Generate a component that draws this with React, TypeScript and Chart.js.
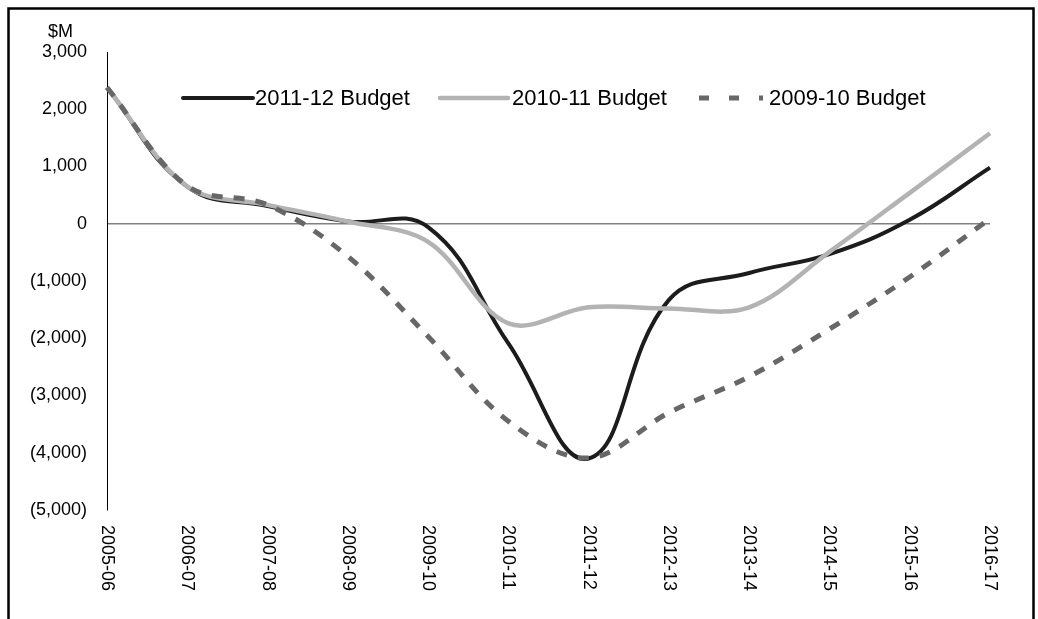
import React, { useEffect, useRef } from "react";
import { Chart, registerables } from "chart.js";

Chart.register(...registerables);

const categories = [
  "2005-06", "2006-07", "2007-08", "2008-09", "2009-10", "2010-11",
  "2011-12", "2012-13", "2013-14", "2014-15", "2015-16", "2016-17",
];

const budget2011_12 = [2380, 650, 310, 40, -60, -2090, -4100, -1330, -860, -530, 70, 980];
const budget2010_11 = [2380, 650, 330, 40, -315, -1740, -1460, -1480, -1460, -490, 540, 1580];
const budget2009_10 = [2380, 660, 330, -570, -1970, -3450, -4090, -3300, -2670, -1840, -930, 90];

const seriesNames = ["2011-12 Budget", "2010-11 Budget", "2009-10 Budget"];

const yTicks = [-5000, -4000, -3000, -2000, -1000, 0, 1000, 2000, 3000];

const FONT = "'Liberation Sans', Arial, sans-serif";

const fmt = (v: number) => {
  const s = Math.abs(v).toLocaleString("en-US");
  return v < 0 ? `(${s})` : s;
};

const decorPlugin = {
  id: "decor",
  afterDraw(chart: any) {
    const ctx = chart.ctx;
    const xs = chart.scales.x;
    ctx.save();
    // outer frame
    ctx.strokeStyle = "#000";
    ctx.lineWidth = 2.5;
    ctx.strokeRect(8.5, 8.5, 1025, 700);

    // unit label
    ctx.fillStyle = "#000";
    ctx.font = `18px ${FONT}`;
    ctx.textAlign = "left";
    ctx.textBaseline = "middle";
    ctx.fillText("$M", 48, 32);

    // rotated category labels (top-to-bottom)
    categories.forEach((c, i) => {
      const x = xs.getPixelForValue(i);
      ctx.save();
      ctx.translate(x, chart.chartArea.bottom + 15);
      ctx.rotate(Math.PI / 2);
      ctx.textAlign = "left";
      ctx.textBaseline = "middle";
      ctx.fillText(c, 0, 0);
      ctx.restore();
    });

    // legend
    const ly = 98;
    const ds = chart.data.datasets;
    const items = [
      { x0: 183, x1: 253, tx: 255, d: ds[2] },
      { x0: 440, x1: 508, tx: 512, d: ds[1] },
      { x0: 699, x1: 763, tx: 769, d: ds[0] },
    ];
    ctx.font = `22px ${FONT}`;
    items.forEach((it, i) => {
      ctx.save();
      ctx.strokeStyle = it.d.borderColor;
      ctx.lineWidth = it.d.borderWidth;
      ctx.lineCap = "round";
      if (it.d.borderDash && it.d.borderDash.length) {
        ctx.lineCap = "butt";
        ctx.setLineDash([10, 20]);
      }
      ctx.beginPath();
      ctx.moveTo(it.x0, ly);
      ctx.lineTo(it.x1, ly);
      ctx.stroke();
      ctx.restore();
      ctx.fillStyle = "#000";
      ctx.textAlign = "left";
      ctx.textBaseline = "middle";
      ctx.fillText(seriesNames[i], it.tx, ly + 1);
    });
    ctx.restore();
  },
};

export default function App() {
  const ref = useRef<HTMLCanvasElement>(null);
  useEffect(() => {
    if (!ref.current) return;
    const chart = new Chart(ref.current, {
      type: "line",
      data: {
        labels: categories,
        datasets: [
          {
            label: seriesNames[2],
            data: budget2009_10,
            borderColor: "#676767",
            borderWidth: 5,
            borderDash: [11, 11],
            pointRadius: 0,
            tension: 0.35,
            fill: false,
          },
          {
            label: seriesNames[1],
            data: budget2010_11,
            borderColor: "#b3b3b3",
            borderWidth: 4.5,
            pointRadius: 0,
            tension: 0.35,
            fill: false,
          },
          {
            label: seriesNames[0],
            data: budget2011_12,
            borderColor: "#1c1c1c",
            borderWidth: 4,
            pointRadius: 0,
            tension: 0.42,
            fill: false,
          },
        ],
      },
      options: {
        animation: false,
        responsive: false,
        maintainAspectRatio: false,
        layout: { padding: { top: 52, right: 48, left: 0, bottom: 0 } },
        plugins: { legend: { display: false }, tooltip: { enabled: false } },
        scales: {
          x: {
            type: "category",
            offset: false,
            grid: { display: false },
            border: { display: false },
            ticks: { display: false },
            afterFit: (s: any) => {
              s.height = 109;
            },
          },
          y: {
            min: -5000,
            max: 3000,
            afterBuildTicks: (s: any) => {
              s.ticks = yTicks.map((v) => ({ value: v }));
            },
            grid: {
              drawTicks: false,
              color: (c: any) => (c.tick && c.tick.value === 0 ? "#808080" : "rgba(0,0,0,0)"),
              lineWidth: 1.5,
            },
            border: { display: true, color: "#000", width: 1 },
            ticks: {
              padding: 20,
              color: "#000",
              font: { family: FONT, size: 18 },
              callback: (v: any) => fmt(Number(v)),
            },
            afterFit: (s: any) => {
              s.width = 107;
            },
          },
        },
      },
      plugins: [decorPlugin],
    });
    return () => chart.destroy();
  }, []);
  return (
    <div style={{ position: "fixed", left: 0, top: 0, width: 1038, height: 619, background: "#fff" }}>
      <canvas ref={ref} width={1038} height={619} style={{ display: "block", width: 1038, height: 619 }} />
    </div>
  );
}
